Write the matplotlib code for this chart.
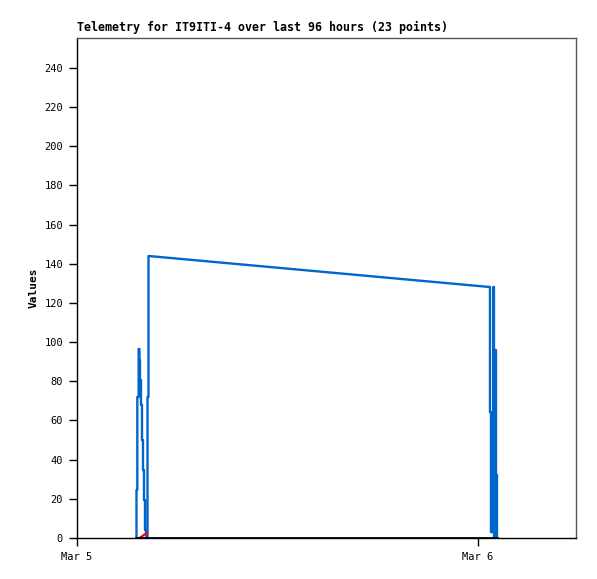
import matplotlib
matplotlib.use("Agg")
import matplotlib.pyplot as plt

# hours since Mar 5 00:00 and channel values
blue_t = [3.56, 3.56, 3.61, 3.61, 3.69, 3.69, 3.74, 3.74, 3.77, 3.77, 3.83, 3.83,
          3.89, 3.89, 3.95, 3.95, 4.01, 4.01, 4.07, 4.07, 4.13, 4.16, 4.22, 4.22,
          4.28, 4.28, 24.64, 24.72, 24.72, 24.78, 24.78, 24.84, 24.84, 24.92, 24.92,
          24.96, 24.96, 25.05, 25.05, 25.08, 25.08, 25.14, 25.14]
blue_v = [0, 24.5, 24.5, 72, 72, 96.5, 96.5, 91, 91, 80.7, 80.7, 68,
          68, 50, 50, 34.7, 34.7, 19.4, 19.4, 4, 4, 0, 0, 72,
          72, 144, 128.2, 128.2, 64.3, 64.3, 3, 3, 64.3, 64.3, 128.2,
          128.2, 0, 0, 96, 96, 32.2, 32.2, 0]
red_t = [3.74, 3.95, 4.19]
red_v = [0, 1.2, 2.8]
black_t = [3.56, 25.14]
black_v = [0, 0]

tick_hours = [0, 24]
tick_labels = ["Mar 5", "Mar 6"]

fig = plt.figure(figsize=(5.97, 5.79), dpi=100)
ax = fig.add_axes([77 / 597, 41 / 579, 499 / 597, 500 / 579])

ax.plot(blue_t, blue_v, color="#0066cc", lw=1.7)
ax.plot(red_t, red_v, color="#ff0000", lw=1.6)
ax.plot(black_t, black_v, color="black", lw=2)

ax.set_xlim(0, 29.87)
ax.set_ylim(0, 255.3)
ax.set_yticks(range(0, 241, 20))
ax.set_xticks(tick_hours)
ax.set_xticklabels(tick_labels)

mono = "DejaVu Sans Mono"
for lab in ax.get_xticklabels() + ax.get_yticklabels():
    lab.set_fontfamily(mono)
    lab.set_fontsize(7.5)
ax.tick_params(direction="out", length=6, width=1, color="black", pad=4)

for s in ["top", "right"]:
    ax.spines[s].set_color("#555555")
    ax.spines[s].set_linewidth(1)
for s in ["left", "bottom"]:
    ax.spines[s].set_color("black")
    ax.spines[s].set_linewidth(1)

ax.set_ylabel("Values", family=mono, fontsize=8, fontweight="bold", labelpad=4)
fig.text(77 / 597, 1 - 31 / 579, "Telemetry for IT9ITI-4 over last 96 hours (23 points)",
         family=mono, fontsize=8.4, fontweight="bold", ha="left", va="baseline")

fig.savefig("out.png", dpi=100)
